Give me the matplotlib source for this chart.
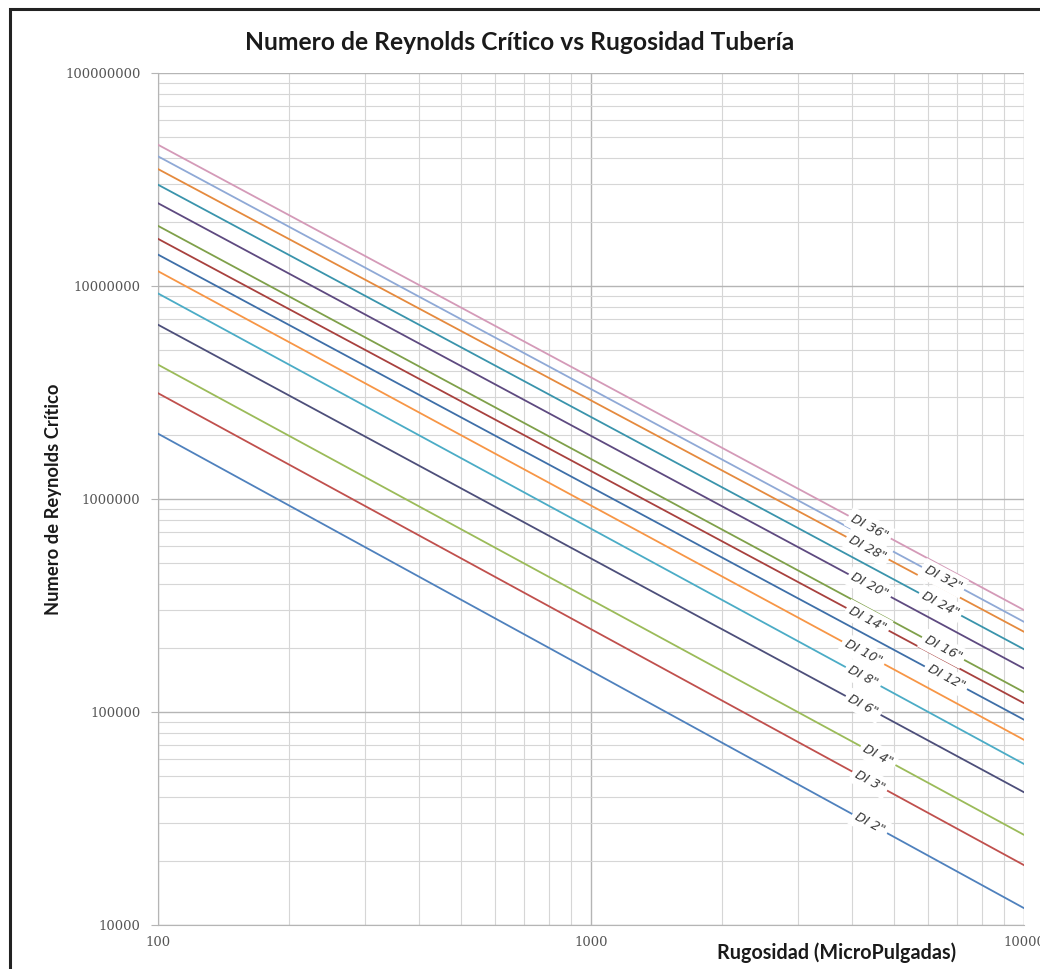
import numpy as np
import matplotlib
matplotlib.use("Agg")
import matplotlib.pyplot as plt
from matplotlib.ticker import FixedLocator, LogLocator, NullFormatter, FuncFormatter
from matplotlib.patches import Rectangle

# Datos (extremos de cada recta en escala log-log)
rugosidad = [100, 10000]  # micropulgadas
diametros = ['2"', '3"', '4"', '6"', '8"', '10"', '12"', '14"', '16"',
             '20"', '24"', '28"', '32"', '36"']
re_100 = [2.02e6, 3.13e6, 4.26e6, 6.56e6, 9.2e6, 1.17e7, 1.40e7, 1.66e7,
          1.91e7, 2.44e7, 2.98e7, 3.53e7, 4.05e7, 4.59e7]
re_10000 = [1.20e4, 1.91e4, 2.65e4, 4.2e4, 5.7e4, 7.4e4, 9.2e4, 1.10e5,
            1.24e5, 1.60e5, 1.97e5, 2.38e5, 2.65e5, 3.01e5]
# posición x de cada etiqueta sobre su recta
etiqueta_x = [4400, 4400, 4600, 4250, 4250, 4250, 6600, 4350, 6500,
              4400, 6400, 4350, 6500, 4400]

colores = ['#4F81BD', '#C0504D', '#9BBB59', '#4D4F7A', '#4BACC6', '#F79646',
           '#3E6FA8', '#A8413E', '#7FA04A', '#5E4A80', '#3A94AC', '#E58A3E',
           '#8FA9D6', '#D49AB8']

fig = plt.figure(figsize=(10.4, 9.69), dpi=100)
ax = fig.add_axes([0.1524, 0.0454, 0.8322, 0.8793])

for d, y0, y1, c, lx in zip(diametros, re_100, re_10000, colores, etiqueta_x):
    ax.plot(rugosidad, [y0, y1], color=c, linewidth=1.3, zorder=3)
    ly = 10 ** np.interp(np.log10(lx), np.log10(rugosidad), np.log10([y0, y1]))
    ax.text(lx, ly, "DI " + d, rotation=-28, rotation_mode='anchor',
            ha='center', va='center', fontsize=9.3, color='#3a3a3a',
            family='DejaVu Sans', style='italic', zorder=5,
            bbox=dict(boxstyle='square,pad=0.3', fc='white', ec='none'))

ax.set_xscale('log')
ax.set_yscale('log')
ax.set_xlim(100, 10000)
ax.set_ylim(1e4, 1e8)

ax.xaxis.set_major_locator(FixedLocator([100, 1000, 10000]))
ax.yaxis.set_major_locator(FixedLocator([1e4, 1e5, 1e6, 1e7, 1e8]))
ax.xaxis.set_minor_locator(LogLocator(base=10, subs=np.arange(2, 10)))
ax.yaxis.set_minor_locator(LogLocator(base=10, subs=np.arange(2, 10)))
ax.xaxis.set_minor_formatter(NullFormatter())
ax.yaxis.set_minor_formatter(NullFormatter())
fmt = FuncFormatter(lambda v, p: "%d" % round(v))
ax.xaxis.set_major_formatter(fmt)
ax.yaxis.set_major_formatter(fmt)

ax.grid(which='major', color='#B5B5B5', linewidth=1.0, zorder=0)
ax.grid(which='minor', color='#D6D6D6', linewidth=0.8, zorder=0)
ax.set_axisbelow(True)

for s in ['top', 'right']:
    ax.spines[s].set_visible(False)
for s in ['left', 'bottom']:
    ax.spines[s].set_color('#B5B5B5')

ax.tick_params(axis='y', which='major', length=5, color='#B5B5B5', pad=8,
               labelsize=9.5, labelcolor='#555555')
ax.tick_params(axis='x', which='major', length=0, pad=8,
               labelsize=9.5, labelcolor='#555555')
ax.tick_params(which='minor', length=0)
for lab in ax.get_xticklabels() + ax.get_yticklabels():
    lab.set_family('DejaVu Serif')

ax.set_ylabel("Numero de Reynolds Crítico", fontsize=13.2, fontweight='bold',
              family='Lato', color='#1a1a1a')
ax.yaxis.set_label_coords(-0.111, 0.5)
ax.set_xlabel("Rugosidad (MicroPulgadas)", fontsize=14.2, fontweight='bold',
              family='Lato', color='#1a1a1a')
ax.xaxis.label.set_va('center')
ax.xaxis.set_label_coords(0.783, -0.032)

fig.text(0.5, 0.956, "Numero de Reynolds Crítico vs Rugosidad Tubería",
         ha='center', va='center', fontsize=17.7, fontweight='bold',
         family='Lato', color='#1a1a1a')

# marco exterior
fig.patches.append(Rectangle((10 / 1040, -0.05), 1.1, (969 - 9) / 969 + 0.05,
                             transform=fig.transFigure, fill=False,
                             edgecolor='#222222', linewidth=2.2))

fig.savefig("out.png", dpi=100)
